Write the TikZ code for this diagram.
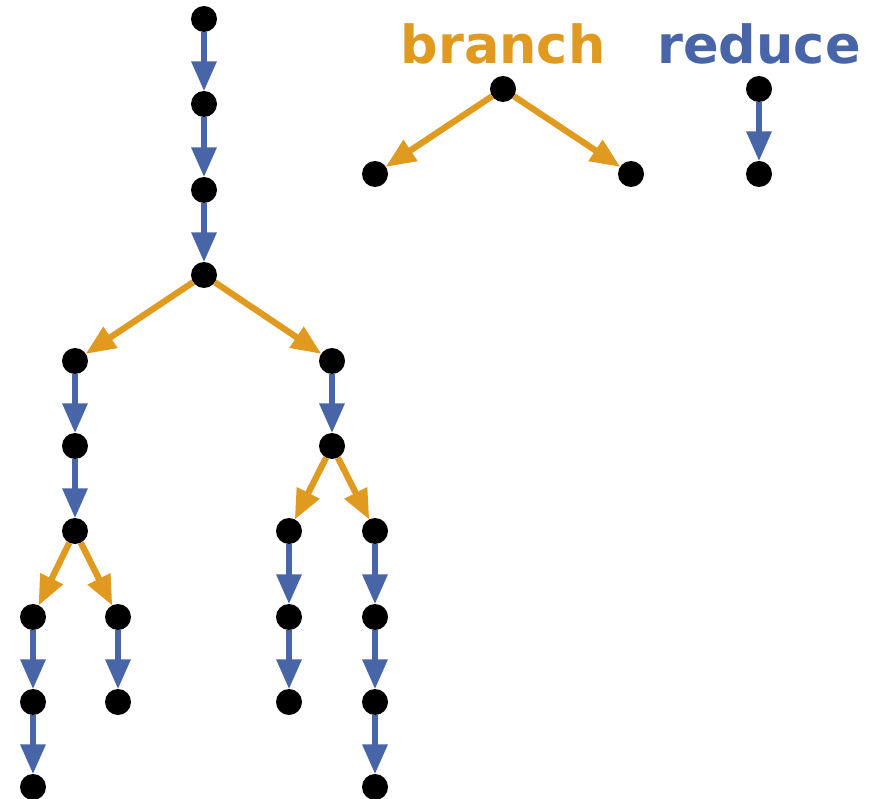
\documentclass[tikz,border=0pt]{standalone}
\usepackage{fontspec}
\setmainfont{DejaVu Sans}
\usetikzlibrary{arrows.meta,backgrounds}
\definecolor{brorange}{RGB}{224,154,31}
\definecolor{rdblue}{RGB}{71,101,167}
\begin{document}
\begin{tikzpicture}[x=1pt,y=-1pt,
  dot/.style={circle,fill=black,inner sep=0pt,minimum size=26pt},
  red/.style={draw=rdblue,line width=6.3pt,-{Triangle[length=30pt,width=24pt]},shorten >=-0.5pt},
  br/.style={draw=brorange,line width=6.3pt,-{Triangle[length=30pt,width=24pt]},shorten >=-0.5pt},
  lbl/.style={font=\fontsize{52.5}{60}\selectfont\bfseries,anchor=base}]
\useasboundingbox (0,0) rectangle (872,799);
% legend
\node[lbl,text=brorange] (tb) at (503,64) {branch};
\node[lbl,text=rdblue] (tr) at (759,64) {reduce};
\node[dot] (b0) at (503,89) {};
\node[dot] (b1) at (375,174) {};
\node[dot] (b2) at (631,174) {};
\node[dot] (r0) at (759,89) {};
\node[dot] (r1) at (759,174) {};
% tree
\node[dot] (a0) at (204,19) {};
\node[dot] (a1) at (204,104) {};
\node[dot] (a2) at (204,190) {};
\node[dot] (a3) at (204,275) {};
\node[dot] (l4) at (75,361) {};
\node[dot] (l5) at (75,446) {};
\node[dot] (l6) at (75,531) {};
\node[dot] (ll7) at (33,617) {};
\node[dot] (ll8) at (33,702) {};
\node[dot] (ll9) at (33,787) {};
\node[dot] (lr7) at (118,617) {};
\node[dot] (lr8) at (118,702) {};
\node[dot] (r4) at (332,361) {};
\node[dot] (r5) at (332,446) {};
\node[dot] (rl6) at (289,531) {};
\node[dot] (rl7) at (289,617) {};
\node[dot] (rl8) at (289,702) {};
\node[dot] (rr6) at (375,531) {};
\node[dot] (rr7) at (375,617) {};
\node[dot] (rr8) at (375,702) {};
\node[dot] (rr9) at (375,787) {};
% edges
\begin{scope}[on background layer]
\draw[br] (b0) -- (b1);
\draw[br] (b0) -- (b2);
\draw[red] (r0) -- (r1);
\draw[red] (a0) -- (a1);
\draw[red] (a1) -- (a2);
\draw[red] (a2) -- (a3);
\draw[br] (a3) -- (l4);
\draw[br] (a3) -- (r4);
\draw[red] (l4) -- (l5);
\draw[red] (l5) -- (l6);
\draw[br] (l6) -- (ll7);
\draw[br] (l6) -- (lr7);
\draw[red] (ll7) -- (ll8);
\draw[red] (ll8) -- (ll9);
\draw[red] (lr7) -- (lr8);
\draw[red] (r4) -- (r5);
\draw[br] (r5) -- (rl6);
\draw[br] (r5) -- (rr6);
\draw[red] (rl6) -- (rl7);
\draw[red] (rl7) -- (rl8);
\draw[red] (rr6) -- (rr7);
\draw[red] (rr7) -- (rr8);
\draw[red] (rr8) -- (rr9);
\end{scope}
\end{tikzpicture}
\end{document}
